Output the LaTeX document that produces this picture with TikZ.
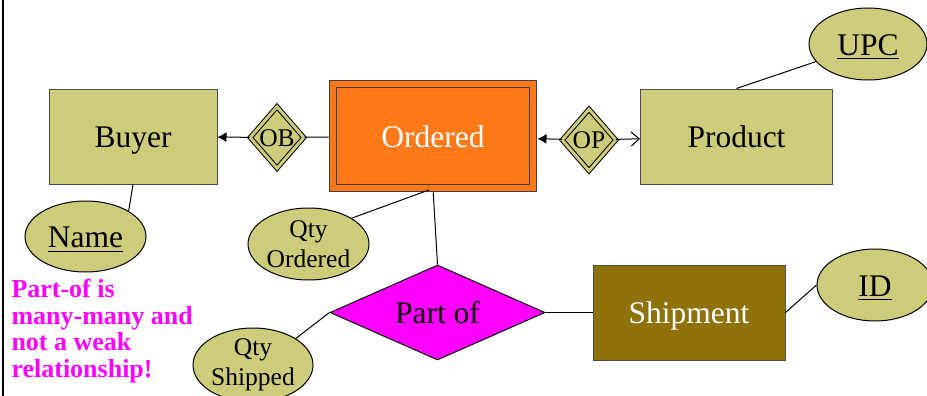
\documentclass[tikz,border=0pt]{standalone}
\usepackage{fontspec}
\setmainfont{Liberation Serif}
\usetikzlibrary{arrows.meta,shapes.geometric}
\definecolor{attrfill}{RGB}{204,204,122}
\definecolor{ordfill}{RGB}{255,121,25}
\definecolor{shipfill}{RGB}{143,114,10}
\definecolor{notecol}{RGB}{255,0,255}

\begin{document}
\begin{tikzpicture}[x=0.5pt, y=-0.5pt, line width=0.5pt,
	big/.style={font=\fontsize{15.75}{18}\selectfont, text height=11.3pt, text depth=0pt},
	small/.style={font=\fontsize{12.75}{15}\selectfont},
	entity/.style={rectangle, draw=black!70, fill=attrfill, minimum width=96pt, minimum height=47.5pt, big},
	attr/.style={ellipse, draw, fill=attrfill, inner sep=0pt, minimum width=60pt, minimum height=36pt},
	qty/.style={attr, small, align=center},
	idrel/.style={diamond, draw, fill=attrfill, double=attrfill, double distance=1.5pt, inner sep=0pt, minimum width=27pt, minimum height=31pt, small, text height=8.5pt, text depth=0pt},
	>={Latex[length=4.5pt,width=5pt]}]
	\useasboundingbox (0,0) rectangle (927,396);
	\draw[line width=1.25pt] (2.8,0) -- (2.8,396);
	% entities and relationships
	\node[entity, minimum width=84pt] (buyer) at (133,136.5) {Buyer};
	\node[idrel] (ob) at (277,137.5) {OB};
	\node[entity, fill=ordfill, draw=black!75, double=ordfill, double distance=3pt, minimum width=100pt, minimum height=52pt, text=white] (ordered) at (433,136) {Ordered};
	\node[idrel] (op) at (589,140) {OP};
	\node[entity] (product) at (736.5,136.5) {Product};
	\node[diamond, draw, fill=notecol, inner sep=0pt, shape aspect=2.2, minimum width=107.5pt, minimum height=47.5pt, big] (partof) at (437.5,312.5) {Part of};
	\node[entity, fill=shipfill, text=white] (shipment) at (689,312.5) {Shipment};
	% attributes
	\node[attr, big, minimum width=59pt] (upc) at (868,44) {\underline{UPC}};
	\node[attr, big, minimum width=60.5pt, minimum height=35.5pt] (name) at (85.5,236.5) {\underline{Name}};
	\node[qty, minimum width=60.5pt] (qtyo) at (308.5,244) {Qty\\Ordered};
	\node[qty] (qtys) at (253,365) {Qty\\Shipped};
	\node[attr, big, minimum width=58pt] (id) at (875,285) {\underline{ID}};
	\node[anchor=north west, inner sep=0pt, align=left, text=notecol, font=\fontsize{13}{13.2}\selectfont\bfseries] (note) at (11,279) {Part-of is\\many-many and\\not a weak\\relationship!};
	% connectors
	\draw[->] (ob) -- (buyer);
	\draw[shorten <=2pt] (ordered) -- (ob);
	\draw[->, shorten >=2pt] (op) -- (ordered);
	\draw[-{Straight Barb[length=4pt,width=7pt]}] (op) -- (product);
	\draw (upc) -- (product.north);
	\draw (buyer.south) -- (name.north east);
	\draw[shorten <=2pt] (ordered.south) -- (qtyo.north east);
	\draw[shorten <=2pt] (ordered.south) -- (partof.north);
	\draw (partof) -- (shipment);
	\draw (partof.west) -- (qtys.north east);
	\draw (shipment.east) -- (id.west);
\end{tikzpicture}
\end{document}
